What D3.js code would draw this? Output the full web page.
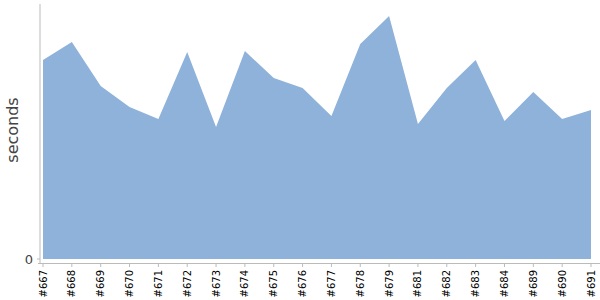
<!DOCTYPE html>
<html lang="en">
<head>
	<meta charset="utf-8">
	<title>build times</title>
	<style>
		body { margin: 0; background: #fff; }
		svg { display: block; font-family: "DejaVu Sans", sans-serif; }
	</style>
</head>
<body>
	<script src="https://cdn.jsdelivr.net/npm/d3@7"></script>
	<script>
		const builds = ["#667", "#668", "#669", "#670", "#671", "#672", "#673", "#674", "#675", "#676",
			"#677", "#678", "#679", "#681", "#682", "#683", "#684", "#689", "#690", "#691"];
		const seconds = [199, 217, 173, 152, 140, 207, 132, 208, 181, 171,
			143, 215, 243, 135, 171, 199, 138, 167, 140, 149];
		const yTicks = [0];

		const width = 600, height = 300;
		const svg = d3.select("body").append("svg")
			.attr("width", width)
			.attr("height", height);

		const x = d3.scalePoint().domain(builds).range([43, 591]);
		const y = d3.scaleLinear().domain([0, 255]).range([259, 4]);

		const data = builds.map((b, i) => ({ b, v: seconds[i] }));

		svg.append("path")
			.datum(data)
			.attr("fill", "#8fb2da")
			.attr("d", d3.area()
				.x(d => x(d.b))
				.y0(y(0))
				.y1(d => y(d.v)));

		// y axis
		svg.append("line")
			.attr("x1", 40).attr("x2", 40)
			.attr("y1", 4).attr("y2", 263)
			.attr("stroke", "#bbb");
		svg.append("g")
			.selectAll("text")
			.data(yTicks)
			.join("text")
			.attr("x", 33)
			.attr("y", d => y(d))
			.attr("dy", "0.35em")
			.attr("text-anchor", "end")
			.attr("font-size", 13)
			.attr("fill", "#444")
			.text(d => d);
		svg.append("g")
			.selectAll("line")
			.data(yTicks)
			.join("line")
			.attr("x1", 37).attr("x2", 40)
			.attr("y1", d => y(d)).attr("y2", d => y(d))
			.attr("stroke", "#bbb");

		svg.append("text")
			.attr("transform", "translate(18,130) rotate(-90)")
			.attr("text-anchor", "middle")
			.attr("font-size", 16)
			.attr("fill", "#444")
			.text("seconds");

		// x axis
		svg.append("line")
			.attr("x1", 38).attr("x2", 600)
			.attr("y1", 263.5).attr("y2", 263.5)
			.attr("stroke", "#bbb");
		const xt = svg.append("g")
			.selectAll("g")
			.data(builds)
			.join("g")
			.attr("transform", d => `translate(${x(d)},263)`);
		xt.append("line")
			.attr("y1", 0).attr("y2", 4)
			.attr("stroke", "#bbb");
		xt.append("text")
			.attr("transform", "translate(0,7) rotate(-90)")
			.attr("dy", "0.35em")
			.attr("text-anchor", "end")
			.attr("font-size", 10)
			.attr("fill", "#000")
			.text(d => d);
	</script>
</body>
</html>
